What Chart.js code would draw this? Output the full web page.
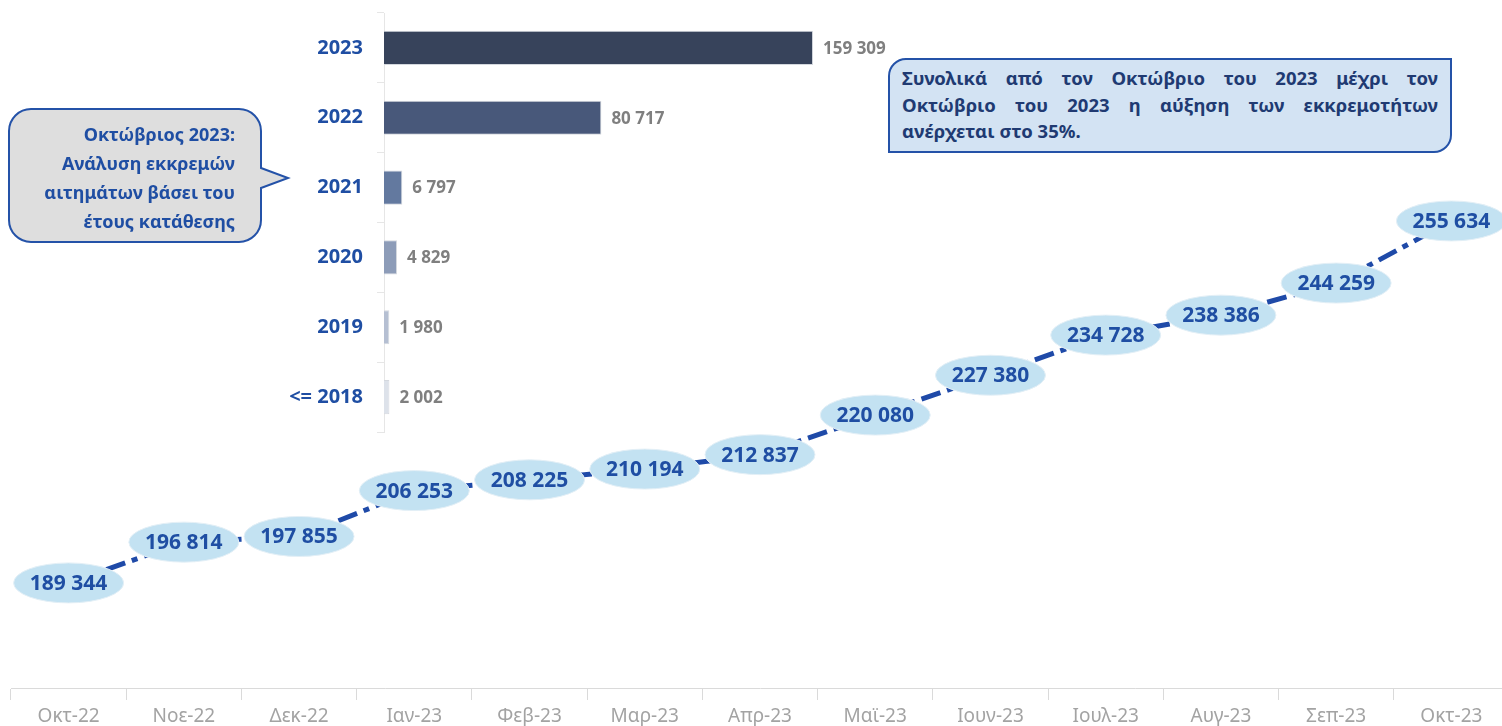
<!DOCTYPE html>
<html>
<head>
<meta charset="utf-8">
<script src="https://cdn.jsdelivr.net/npm/chart.js@4.4.0/dist/chart.umd.min.js"></script>
<style>
  body { margin: 0; width: 1502px; height: 726px; overflow: hidden; background: #fff; font-family: "Noto Sans", sans-serif; }
  #lineChart { position: absolute; left: 0; top: 0; }
  #barChart { position: absolute; left: 270px; top: 0; }
  #bubbleSvg { position: absolute; left: 0; top: 0; }
  #bubbleText { position: absolute; right: 1267px; top: 120px; text-align: right; font-weight: 700; font-size: 18px; line-height: 29px; color: #1f4ea3; white-space: nowrap; }
  #noteBox { position: absolute; left: 888px; top: 58px; width: 564px; height: 95px; box-sizing: border-box; border: 2px solid #2452a8; border-radius: 18px 0 18px 0; background: #d3e3f3; padding: 5px 12px 0 12px; font-weight: 700; font-size: 18.5px; line-height: 26.5px; color: #203a72; }
  #noteBox .j { text-align: justify; text-align-last: justify; }
</style>
</head>
<body>
<canvas id="lineChart" width="1510" height="726"></canvas>
<canvas id="barChart" width="630" height="440"></canvas>

<svg id="bubbleSvg" width="300" height="260">
  <path d="M 31 109 H 239 A 22 22 0 0 1 261 131 V 168 L 288 178 L 261 188 V 220 A 22 22 0 0 1 239 242 H 31 A 22 22 0 0 1 9 220 V 131 A 22 22 0 0 1 31 109 Z"
        fill="#dedede" stroke="#2452a8" stroke-width="2"/>
</svg>
<div id="bubbleText">Οκτώβριος 2023:<br>Ανάλυση εκκρεμών<br>αιτημάτων βάσει του<br>έτους κατάθεσης</div>

<div id="noteBox">
  <div class="j">Συνολικά από τον Οκτώβριο του 2023 μέχρι τον</div>
  <div class="j">Οκτώβριο του 2023 η αύξηση των εκκρεμοτήτων</div>
  <div>ανέρχεται στο 35%.</div>
</div>

<script>
// Εκκρεμή αιτήματα ανά μήνα
const meses = ['Οκτ-22', 'Νοε-22', 'Δεκ-22', 'Ιαν-23', 'Φεβ-23', 'Μαρ-23', 'Απρ-23', 'Μαϊ-23', 'Ιουν-23', 'Ιουλ-23', 'Αυγ-23', 'Σεπ-23', 'Οκτ-23'];
const ekkremotites = [189344, 196814, 197855, 206253, 208225, 210194, 212837, 220080, 227380, 234728, 238386, 244259, 255634];

// Ανάλυση Οκτωβρίου 2023 ανά έτος κατάθεσης
const eti = ['2023', '2022', '2021', '2020', '2019', '<= 2018'];
const aitimata = [159309, 80717, 6797, 4829, 1980, 2002];
const xromataBar = ['#37435b', '#48587a', '#63799f', '#8d9cb8', '#b5bfd2', '#dde2ea'];

const FONT = '"Noto Sans", sans-serif';
const fmt = (v) => v.toLocaleString('en-US').replace(/,/g, ' ');

// Ελλείψεις με τις τιμές πάνω στη γραμμή
const ellipseLabels = {
  id: 'ellipseLabels',
  afterDatasetsDraw(chart) {
    const ctx = chart.ctx;
    const meta = chart.getDatasetMeta(0);
    ctx.save();
    meta.data.forEach((pt, i) => {
      ctx.beginPath();
      ctx.ellipse(pt.x, pt.y, 55, 20, 0, 0, Math.PI * 2);
      ctx.fillStyle = '#c3e2f2';
      ctx.fill();
      ctx.strokeStyle = '#e3eff6';
      ctx.lineWidth = 1;
      ctx.stroke();
      ctx.fillStyle = '#1f4ea3';
      ctx.font = 'bold 21px ' + FONT;
      ctx.textAlign = 'center';
      ctx.textBaseline = 'middle';
      ctx.fillText(fmt(ekkremotites[i]), pt.x, pt.y + 1);
    });
    ctx.restore();
  },
};

// Τιμές δεξιά από τις μπάρες
const barValues = {
  id: 'barValues',
  afterDatasetsDraw(chart) {
    const ctx = chart.ctx;
    const meta = chart.getDatasetMeta(0);
    ctx.save();
    ctx.fillStyle = '#7f7f7f';
    ctx.font = 'bold 17px ' + FONT;
    ctx.textAlign = 'left';
    ctx.textBaseline = 'middle';
    meta.data.forEach((bar, i) => {
      ctx.fillText(fmt(aitimata[i]), bar.x + 10, bar.y + 1);
    });
    ctx.restore();
  },
};

new Chart(document.getElementById('lineChart'), {
  type: 'line',
  data: {
    labels: meses,
    datasets: [{
      data: ekkremotites,
      borderColor: '#1f4aa8',
      borderWidth: 5,
      borderDash: [20, 7, 6, 7],
      pointRadius: 0,
      tension: 0,
      fill: false,
    }],
  },
  options: {
    responsive: false,
    animation: false,
    layout: { padding: { left: 11, right: 1, top: 0, bottom: 0 } },
    plugins: { legend: { display: false }, tooltip: { enabled: false } },
    scales: {
      x: {
        offset: true,
        grid: { offset: true, drawOnChartArea: false, tickLength: 12, color: '#dadada' },
        border: { color: '#dadada' },
        ticks: { font: { family: FONT, size: 19 }, color: '#a3a3a3', padding: 5 },
        afterFit(scale) { scale.height = 38; },
      },
      y: { display: false, min: 170100, max: 296100 },
    },
  },
  plugins: [ellipseLabels],
});

new Chart(document.getElementById('barChart'), {
  type: 'bar',
  data: {
    labels: eti,
    datasets: [{
      data: aitimata,
      backgroundColor: xromataBar,
      borderColor: '#d4d8de',
      borderWidth: 1,
      barPercentage: 0.49,
      categoryPercentage: 1,
    }],
  },
  options: {
    indexAxis: 'y',
    responsive: false,
    animation: false,
    layout: { padding: { left: 0, right: 0, top: 13, bottom: 8 } },
    plugins: { legend: { display: false }, tooltip: { enabled: false } },
    scales: {
      x: { display: false, min: 0, max: 191600 },
      y: {
        grid: { offset: true, drawOnChartArea: false, tickLength: 7, color: '#e6e6e6' },
        border: { color: '#e6e6e6' },
        ticks: { font: { family: FONT, size: 20, weight: 'bold' }, color: '#1f4ea3', padding: 14 },
        afterFit(scale) {
          scale.width = 114;
          scale.paddingTop = 0;
          scale.paddingBottom = 0;
        },
      },
    },
  },
  plugins: [barValues],
});
</script>
</body>
</html>
